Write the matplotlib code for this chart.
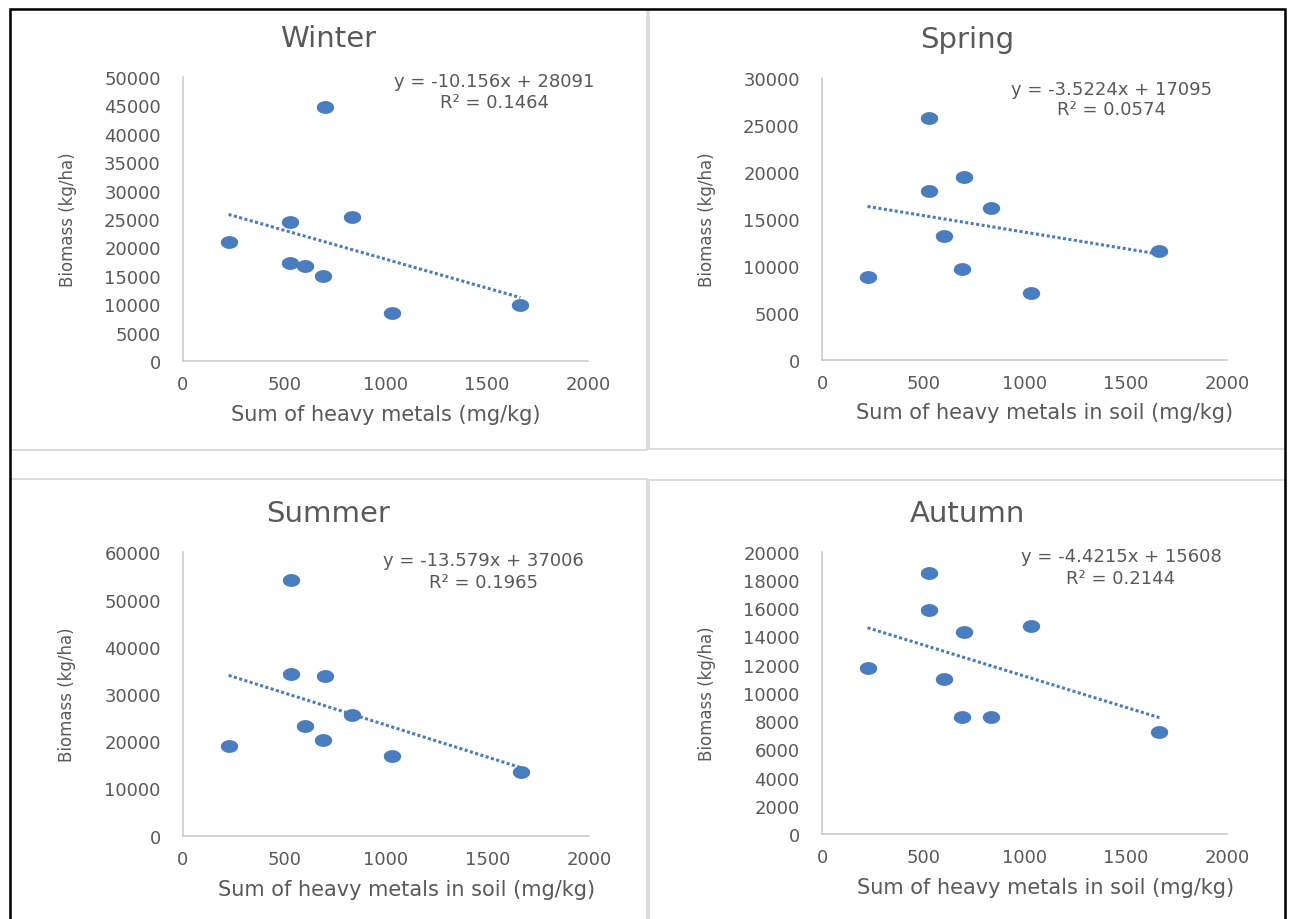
import numpy as np
import matplotlib
matplotlib.use("Agg")
import matplotlib.pyplot as plt
from matplotlib.path import Path
from matplotlib.patches import Rectangle

# ---- data ----
metals = [225, 530, 530, 603, 692, 700, 833, 1030, 1666]   # sum of heavy metals (mg/kg)

winter = [20975, 24500, 17330, 16690, 14980, 44770, 25380, 8460, 9930]
spring = [8760, 25670, 17980, 13190, 9650, 19400, 16170, 7090, 11600]
summer = [18910, 54130, 34230, 23290, 20250, 33870, 25550, 16940, 13550]
autumn = [11760, 18490, 15870, 10980, 8310, 14310, 8260, 14760, 7250]

seasons = ["Winter", "Spring", "Summer", "Autumn"]
biomass = [winter, spring, summer, autumn]
slopes = [-10.156, -3.5224, -13.579, -4.4215]
intercepts = [28091, 17095, 37006, 15608]
r2 = ["0.1464", "0.0574", "0.1965", "0.2144"]
xlabels = ["Sum of heavy metals (mg/kg)",
           "Sum of heavy metals in soil (mg/kg)",
           "Sum of heavy metals in soil (mg/kg)",
           "Sum of heavy metals in soil (mg/kg)"]
ymax = [50000, 30000, 60000, 20000]
ystep = [5000, 5000, 10000, 2000]

# ---- layout (pixels of a 1290x920 canvas) ----
W, H = 1290, 920
boxes = [(183, 78, 588, 362), (822, 78.7, 1227, 360.7),
         (183, 553.3, 589, 836.7), (822, 552.7, 1227, 835)]
eq_x = [0.768, 0.716, 0.741, 0.738]
eq_y = [(0.969, 0.893), (0.942, 0.871), (0.955, 0.879), (0.968, 0.890)]
xlab_x = [0.50, 0.55, 0.55, 0.552]

blue = "#4a7cc0"
grey_txt = "#595959"

plt.rcParams['font.family'] = ['DejaVu Sans']
fig = plt.figure(figsize=(W / 100, H / 100), dpi=100)
fig.patch.set_facecolor("white")

# panel frames
def px_rect(x0, y0, x1, y1, **kw):
    return Rectangle((x0 / W, 1 - y1 / H), (x1 - x0) / W, (y1 - y0) / H,
                     transform=fig.transFigure, fill=False, **kw)

for r in [(10, 10, 647, 451), (649, 10, 1285, 450),
          (10, 480, 647, 930), (649, 481, 1285, 930)]:
    fig.add_artist(px_rect(*r, ec="#d9d9d9", lw=1.3))
fig.add_artist(px_rect(10, 10, 1285, 940, ec="black", lw=1.8))

# oval marker like the stretched excel dots
t = np.linspace(0, 2 * np.pi, 60)
oval = Path(np.column_stack([1.4 * np.cos(t), np.sin(t)]), closed=True)

for i in range(4):
    x0, y0, x1, y1 = boxes[i]
    ax = fig.add_axes([x0 / W, 1 - y1 / H, (x1 - x0) / W, (y1 - y0) / H])
    ax.patch.set_alpha(0)

    ax.plot(metals, biomass[i], ls="none", marker=oval, ms=11.5,
            color=blue, zorder=3, clip_on=False)
    xs = np.array([min(metals), max(metals)])
    ax.plot(xs, slopes[i] * xs + intercepts[i], color=blue, lw=2.2,
            ls=(0, (1, 0.8)), zorder=2)

    ax.set_xlim(0, 2000)
    ax.set_ylim(0, ymax[i])
    ax.set_xticks(range(0, 2001, 500))
    ax.set_yticks(np.arange(0, ymax[i] + 1, ystep[i]))

    for s in ["top", "right"]:
        ax.spines[s].set_visible(False)
    for s in ["left", "bottom"]:
        ax.spines[s].set_color("#c8c8c8")
        ax.spines[s].set_linewidth(1.1)
    ax.tick_params(length=0, labelsize=13, colors=grey_txt)
    ax.tick_params(axis="y", pad=16)
    ax.tick_params(axis="x", pad=10)

    ax.set_xlabel(xlabels[i], fontsize=15, color=grey_txt, va="center")
    ax.xaxis.set_label_coords(xlab_x[i], -0.187)
    ax.set_ylabel("Biomass (kg/ha)", fontsize=12, color=grey_txt, va="center")
    ax.yaxis.set_label_coords(-0.285, 0.5)

    ax.text(0.358, 1.11, seasons[i], transform=ax.transAxes, ha="center",
            va="baseline", fontsize=21, color=grey_txt)

    sign = "+" if intercepts[i] >= 0 else "-"
    eq = "y = %sx %s %d" % (slopes[i], sign, abs(intercepts[i]))
    ax.text(eq_x[i], eq_y[i][0], eq, transform=ax.transAxes, ha="center",
            va="baseline", fontsize=13, color=grey_txt)
    ax.text(eq_x[i], eq_y[i][1], "R² = " + r2[i], transform=ax.transAxes,
            ha="center", va="baseline", fontsize=13, color=grey_txt)

fig.savefig("out.png", dpi=100, facecolor="white")
